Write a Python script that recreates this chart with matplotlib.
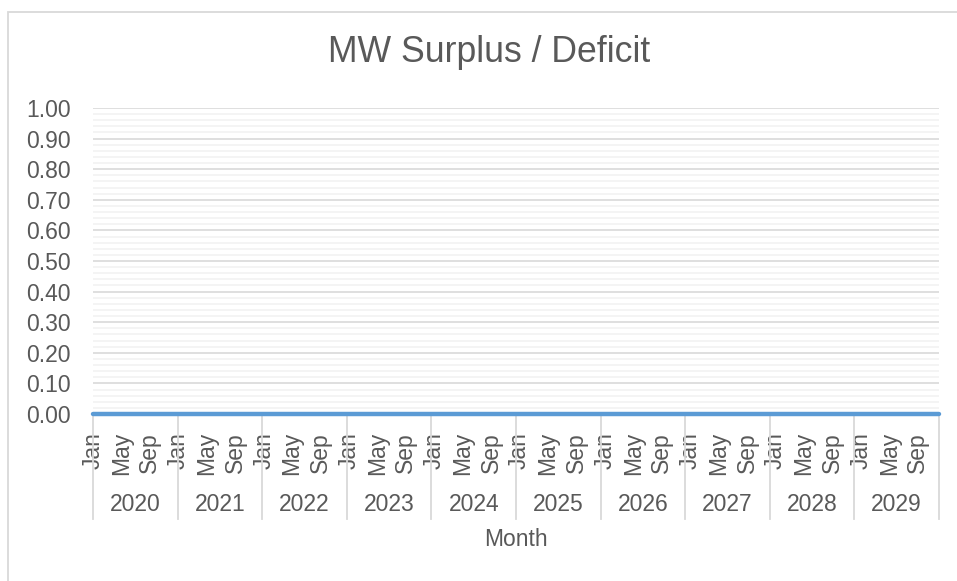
import numpy as np
import matplotlib
matplotlib.use("Agg")
import matplotlib.pyplot as plt
from matplotlib.patches import Rectangle
from matplotlib.ticker import MultipleLocator, FormatStrFormatter

# данные: помесячно 2020-2029, все значения нулевые
years = [2020, 2021, 2022, 2023, 2024, 2025, 2026, 2027, 2028, 2029]
month_names = ["Jan", "May", "Sep"]
label_every = 4
surplus = [0.0] * (12 * len(years))

plt.rcParams['font.family'] = ['Liberation Sans', 'DejaVu Sans']
txt = '#595959'

fig = plt.figure(figsize=(9.57, 5.81), dpi=100)
fig.patches.append(Rectangle((8 / 957, -0.1), 1.2, 1 - 12 / 581 + 0.1, transform=fig.transFigure,
                             fill=False, edgecolor='#D9D9D9', linewidth=1.3))
ax = fig.add_axes([93 / 957, 1 - 414 / 581, 846 / 957, 306 / 581])

n = len(surplus)
x = np.arange(n)
ax.plot(x, surplus, color='#5B9BD5', linewidth=3.2, solid_capstyle='round', clip_on=False, zorder=3)

ax.set_xlim(0, n - 1)
ax.set_ylim(0, 1)
ax.yaxis.set_major_locator(MultipleLocator(0.1))
ax.yaxis.set_minor_locator(MultipleLocator(0.02))
ax.yaxis.set_major_formatter(FormatStrFormatter('%.2f'))
ax.grid(True, which='major', axis='y', color='#D9D9D9', linewidth=1.2)
ax.grid(True, which='minor', axis='y', color='#F2F2F2', linewidth=1.2)
ax.set_axisbelow(True)
for s in ax.spines.values():
    s.set_visible(False)
ax.tick_params(axis='y', which='both', length=0, pad=16, labelsize=16.5, labelcolor=txt)

# подписи месяцев (Jan, May, Sep в каждом году)
tick_pos = x[::label_every]
tick_lab = [month_names[i % len(month_names)] for i in range(len(tick_pos))]
ax.set_xticks(tick_pos)
ax.set_xticklabels(tick_lab, rotation=90, va='top', ha='center')
ax.tick_params(axis='x', length=0, pad=13, labelsize=16.5, labelcolor=txt)

# годы и разделители
trans = ax.get_xaxis_transform()
step = (n - 1) / len(years)
for k, yr in enumerate(years):
    ax.text((k + 0.5) * step, -0.297, str(yr), transform=trans, ha='center', va='center',
            fontsize=16.5, color=txt)
for k in range(len(years) + 1):
    ax.plot([k * step, k * step], [0, -0.343], transform=trans, color='#D9D9D9',
            linewidth=1.3, clip_on=False, zorder=1)

fig.text(516 / 957, 1 - 539 / 581, "Month", ha='center', va='center', fontsize=16.5, color=txt)
fig.text(489 / 957, 1 - 53 / 581, "MW Surplus / Deficit", ha='center', va='center',
         fontsize=25.7, color=txt)

fig.savefig("out.png", dpi=100)
